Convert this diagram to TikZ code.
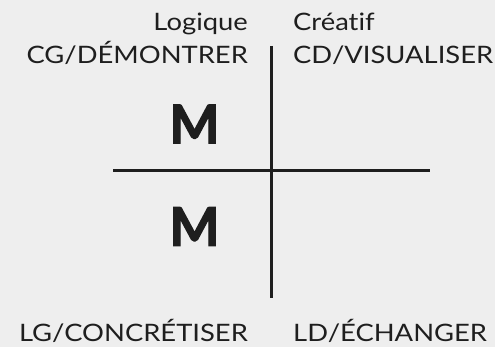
\documentclass[tikz,border=0pt]{standalone}
\usepackage{fontspec}
\setmainfont{Lato}[FakeStretch=1.14,Ligatures=NoCommon]
\newfontfamily\grosfont{Lato}[FakeBold=2.5]
\definecolor{fond}{HTML}{EEEEEE}
\definecolor{encre}{HTML}{1E1E1E}
\begin{document}
\begin{tikzpicture}[x=1pt,y=-1pt,
    lbl/.style={font=\fontsize{24}{26}\selectfont,text=encre,inner sep=0pt},
    grosM/.style={font=\fontsize{53}{55}\grosfont\bfseries,text=encre,inner sep=0pt},
    axe/.style={line width=3pt,encre}]
        \fill[fond] (0,0) rectangle (495,347);
        \useasboundingbox (0,0) rectangle (495,347);
        \path
        (271,46) coordinate (H)
        (271,298) coordinate (B)
        (113,171) coordinate (G)
        (430,171) coordinate (D)
        ;
        \draw[axe] (H)--(B) (G)--(D);
        \node[grosM] (m1) at (194.5,124) {M};
        \node[grosM] (m2) at (194.5,226.5) {M};
        \node[lbl,anchor=base east] (log) at (248,31) {Logique};
        \node[lbl,anchor=base east] (cg) at (248,64) {CG/DÉMONTRER};
        \node[lbl,anchor=base west] (cre) at (293,31) {Créatif};
        \node[lbl,anchor=base west] (cd) at (293,64) {CD/VISUALISER};
        \node[lbl,anchor=base east] (lg) at (248,341) {LG/CONCRÉTISER};
        \node[lbl,anchor=base west] (ld) at (293,341) {LD/ÉCHANGER};
    \end{tikzpicture}
\end{document}
